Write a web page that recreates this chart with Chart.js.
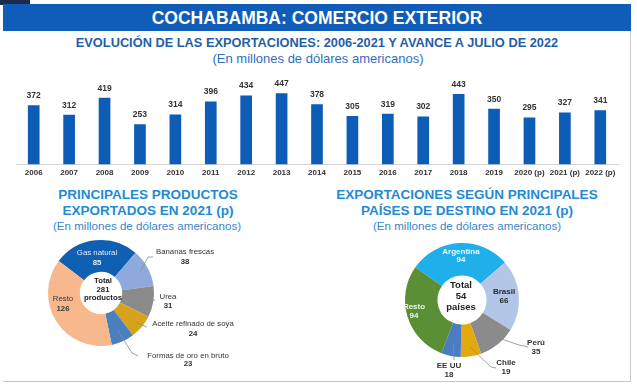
<!DOCTYPE html>
<html><head><meta charset="utf-8">
<script src="https://cdn.jsdelivr.net/npm/chart.js@4.4.0/dist/chart.umd.min.js"></script>
<style>
html,body{margin:0;padding:0;background:#fff;width:637px;height:391px;overflow:hidden;font-family:"Liberation Sans",Arial,sans-serif;}
.abs{position:absolute;}
#corner{left:0;top:0;width:30px;height:5px;background:#1c2b4a;}
#banner{left:3px;top:4px;width:628px;height:27px;background:#0f5db8;color:#fff;font-weight:bold;font-size:17.5px;text-align:center;line-height:28px;}
#frame{left:3px;top:31px;width:627px;height:350px;border-right:1px solid #c8c8c8;border-bottom:1px solid #c8c8c8;}
.t{position:absolute;width:500px;text-align:center;white-space:nowrap;}
canvas{display:block}
.cv{position:absolute}
</style></head>
<body>
<div id="corner" class="abs"></div>
<div id="frame" class="abs"></div>
<div id="banner" class="abs">COCHABAMBA: COMERCIO EXTERIOR</div>
<div class="t" style="left:67px;top:35px;font-size:12.8px;line-height:16px;font-weight:bold;color:#1f5fa8;">EVOLUCIÓN DE LAS EXPORTACIONES: 2006-2021 Y AVANCE A JULIO DE 2022</div>
<div class="t" style="left:68px;top:51px;font-size:13px;line-height:16px;color:#2f6fbf;">(En millones de dólares americanos)</div>

<div class="t" style="left:-102px;top:187px;font-size:13.5px;line-height:16px;font-weight:bold;color:#238bd3;">PRINCIPALES PRODUCTOS<br>EXPORTADOS EN 2021 (p)</div>
<div class="t" style="left:-103px;top:219px;font-size:11.6px;line-height:14px;color:#3a86c8;">(En millones de dólares americanos)</div>

<div class="t" style="left:217px;top:187px;font-size:13.5px;line-height:16px;font-weight:bold;color:#238bd3;">EXPORTACIONES SEGÚN PRINCIPALES<br>PAÍSES DE DESTINO EN 2021 (p)</div>
<div class="t" style="left:217px;top:219px;font-size:11.6px;line-height:14px;color:#3a86c8;">(En millones de dólares americanos)</div>

<div class="cv" style="left:0;top:70px;width:637px;height:112px;"><canvas id="bars"></canvas></div>
<div class="cv" style="left:32px;top:232px;width:210px;height:150px;"><canvas id="prod"></canvas></div>
<div class="cv" style="left:391px;top:236px;width:200px;height:150px;"><canvas id="ctry"></canvas></div>

<script>
// ---- data ----
const years = ['2006','2007','2008','2009','2010','2011','2012','2013','2014','2015','2016','2017','2018','2019','2020 (p)','2021 (p)','2022 (p)'];
const exportValues = [372,312,419,253,314,396,434,447,378,305,319,302,443,350,295,327,341];

const productNames = ['Gas natural','Bananas frescas','Urea','Aceite refinado de soya','Formas de oro en bruto','Resto'];
const productValues = [85,38,31,24,23,126];
const productTotal = ['Total','281','productos'];

const countryNames = ['Argentina','Brasil','Perú','Chile','EE UU','Resto'];
const countryValues = [94,66,35,19,18,94];
const countryTotal = ['Total','54','países'];

const FONT = '"Liberation Sans", Arial, sans-serif';

// ---- bar value labels ----
const barValuePlugin = {
  id: 'barValues',
  afterDatasetsDraw(chart) {
    const ctx = chart.ctx;
    const meta = chart.getDatasetMeta(0);
    ctx.save();
    ctx.font = 'bold 8.5px ' + FONT;
    ctx.fillStyle = '#333';
    ctx.textAlign = 'center';
    ctx.textBaseline = 'middle';
    meta.data.forEach((bar, i) => {
      ctx.fillText(String(chart.data.datasets[0].data[i]), bar.x, bar.y - 9.5);
    });
    ctx.restore();
  }
};

new Chart(document.getElementById('bars'), {
  type: 'bar',
  data: { labels: years, datasets: [{ data: exportValues, backgroundColor: '#0d5cb5', barPercentage: 0.33, categoryPercentage: 1 }] },
  options: {
    responsive: true, maintainAspectRatio: false, animation: false,
    layout: { padding: { left: 16, right: 19, top: 0, bottom: 0 } },
    plugins: { legend: { display: false }, tooltip: { enabled: false } },
    scales: {
      y: { display: false, min: 0, max: 594 },
      x: {
        grid: { display: false, drawTicks: false },
        border: { display: true, color: '#d4d4d4', width: 1 },
        ticks: { color: '#333', font: { family: FONT, size: 8, weight: 'bold' }, padding: 4, maxRotation: 0, autoSkip: false }
      }
    }
  },
  plugins: [barValuePlugin]
});

// ---- doughnut labels ----
const donutLabelPlugin = {
  id: 'donutLabels',
  afterDatasetsDraw(chart, args, opts) {
    const ctx = chart.ctx;
    const arcs = chart.getDatasetMeta(0).data;
    const cx = arcs[0].x, cy = arcs[0].y;
    const names = chart.data.labels;
    const vals = chart.data.datasets[0].data;
    ctx.save();
    ctx.textAlign = 'center';
    ctx.textBaseline = 'middle';
    ctx.fillStyle = '#222';
    ctx.font = 'bold ' + opts.centerSize + 'px ' + FONT;
    opts.centerText.forEach((s, k) => ctx.fillText(s, cx + opts.centerX, cy + opts.centerY[k]));
    opts.labels.forEach((lab, i) => {
      const arc = arcs[i];
      const mid = (arc.startAngle + arc.endAngle) / 2;
      if (lab.leader) {
        const r = arc.innerRadius + (arc.outerRadius - arc.innerRadius) * lab.leader.r;
        ctx.beginPath();
        ctx.moveTo(cx + Math.cos(mid) * r, cy + Math.sin(mid) * r);
        lab.leader.pts.forEach(p => ctx.lineTo(cx + p[0], cy + p[1]));
        ctx.strokeStyle = '#8a8a8a';
        ctx.lineWidth = 0.8;
        ctx.stroke();
      }
      ctx.fillStyle = lab.color;
      ctx.font = (lab.nameBold ? 'bold ' : '') + lab.size + 'px ' + FONT;
      ctx.fillText(names[i], cx + lab.x, cy + lab.y1);
      ctx.font = 'bold ' + lab.size + 'px ' + FONT;
      ctx.fillText(String(vals[i]), cx + lab.x, cy + lab.y2);
    });
    ctx.restore();
  }
};

new Chart(document.getElementById('prod'), {
  type: 'doughnut',
  data: { labels: productNames, datasets: [{ data: productValues, borderWidth: 0,
    backgroundColor: ['#0f5fb3', '#8eaadc', '#8b8b8b', '#d8a31c', '#4a7fc0', '#f6b88c'] }] },
  options: {
    responsive: true, maintainAspectRatio: false, animation: false,
    rotation: -53, cutout: '40%',
    layout: { padding: { left: 16, top: 8, right: 88, bottom: 36 } },
    plugins: {
      legend: { display: false }, tooltip: { enabled: false },
      donutLabels: {
        centerText: productTotal, centerSize: 7.8, centerX: 2, centerY: [-12, -3.5, 5],
        labels: [
          { x: -4, y1: -40, y2: -30, color: '#e4ecf7', size: 7.8 },
          { x: 84, y1: -41, y2: -31, color: '#333', size: 7.8, leader: { r: 0.75, pts: [[47, -36], [52, -36]] } },
          { x: 67, y1: 4, y2: 13, color: '#333', size: 7.8, leader: { r: 0.5, pts: [[54, 7]] } },
          { x: 92, y1: 31, y2: 41, color: '#333', size: 7.8, leader: { r: 0.8, pts: [[46, 34]] } },
          { x: 87, y1: 63, y2: 71, color: '#333', size: 7.8, leader: { r: 0.65, pts: [[31, 60], [37, 63]] } },
          { x: -38, y1: 6, y2: 16, color: '#3a3a3a', size: 7.8 }
        ]
      }
    }
  },
  plugins: [donutLabelPlugin]
});

new Chart(document.getElementById('ctry'), {
  type: 'doughnut',
  data: { labels: countryNames, datasets: [{ data: countryValues, borderWidth: 0,
    backgroundColor: ['#1fb0ec', '#b3c6e8', '#8b8b8b', '#e2a90f', '#4b7dc4', '#5a8f35'] }] },
  options: {
    responsive: true, maintainAspectRatio: false, animation: false,
    rotation: -55, cutout: '43%',
    layout: { padding: { left: 14, top: 7, right: 72, bottom: 29 } },
    plugins: {
      legend: { display: false }, tooltip: { enabled: false },
      donutLabels: {
        centerText: countryTotal, centerSize: 9.5, centerX: -1, centerY: [-15, -4, 7],
        labels: [
          { x: -1, y1: -48, y2: -40, color: '#eef8fd', size: 8, nameBold: true },
          { x: 42, y1: -8, y2: 1, color: '#2a2a2a', size: 8, nameBold: true },
          { x: 74, y1: 43, y2: 52, color: '#333', size: 8, nameBold: true, leader: { r: 0.64, pts: [[57, 45], [66, 47]] } },
          { x: 44, y1: 63, y2: 72, color: '#333', size: 8, nameBold: true, leader: { r: 0.7, pts: [[29, 67], [34, 68]] } },
          { x: -13, y1: 66, y2: 75, color: '#333', size: 8, nameBold: true, leader: { r: 0.6, pts: [[-8, 60]] } },
          { x: -48, y1: 7, y2: 16, color: '#eef5e8', size: 8, nameBold: true }
        ]
      }
    }
  },
  plugins: [donutLabelPlugin]
});
</script>
</body></html>
